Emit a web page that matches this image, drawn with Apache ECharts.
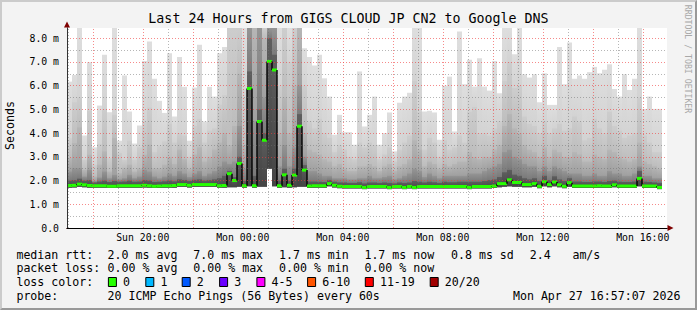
<!DOCTYPE html>
<html><head><meta charset="utf-8">
<script src="https://cdn.jsdelivr.net/npm/echarts@6.0.0/dist/echarts.min.js"></script>
<style>
html,body{margin:0;padding:0;background:#f3f3f3;}
#wrap{position:relative;width:697px;height:310px;}
#c{width:697px;height:310px;}
#frame{position:absolute;left:0;top:0;width:697px;height:310px;box-sizing:border-box;border-style:solid;border-width:2px;border-color:#cbcbcb #999999 #999999 #cbcbcb;pointer-events:none;}
</style></head>
<body><div id="wrap"><div id="c"></div><div id="frame"></div></div>
<script>
// ---- time frame (hours since Sun 00:00), 12-minute consolidated columns ----
const T0 = 16.97, STEP = 0.2;
const X_MIN = 16.97, X_MAX = 40.97;
const Y_MAX = 8.43;
const xLabelHours = [20, 24, 28, 32, 36, 40];

// ---- median rtt per column (ms) ----
const median = [
1.79,1.80,1.85,1.82,1.79,1.78,1.78,1.78,1.76,1.76,
1.78,1.78,1.78,1.78,1.78,1.80,1.78,1.76,1.77,1.78,
1.78,1.79,1.83,1.83,1.80,1.83,1.83,1.83,1.83,1.83,
1.78,1.79,2.29,2.00,2.72,1.78,5.88,1.78,4.49,3.70,
7.02,6.66,1.78,2.24,1.80,2.23,4.29,2.44,1.77,1.78,
1.78,1.78,1.87,1.80,1.76,1.75,1.75,1.75,1.75,1.71,
1.75,1.75,1.75,1.75,1.71,1.75,1.75,1.71,1.75,1.71,
1.75,1.75,1.75,1.75,1.75,1.75,1.75,1.75,1.75,1.75,
1.71,1.75,1.75,1.75,1.75,1.77,1.87,1.87,2.03,1.92,
1.92,1.83,1.83,1.87,1.76,1.95,1.83,1.94,1.82,1.76,
1.91,1.77,1.77,1.77,1.77,1.77,1.78,1.77,1.77,1.82,
1.77,1.77,1.77,1.77,2.09,1.77,1.77,1.77,1.71];

// ---- smoke levels per column (ms): min ping, dark core, and upper quantile levels ----
const pingMin = [
1.70,1.71,1.74,1.72,1.70,1.70,1.70,1.70,1.69,1.69,
1.70,1.70,1.70,1.70,1.70,1.71,1.70,1.69,1.69,1.70,
1.70,1.70,1.74,1.74,1.71,1.74,1.74,1.74,1.74,1.74,
1.70,1.70,1.72,1.72,1.74,1.70,1.76,1.70,1.74,1.74,
2.50,1.76,1.70,1.72,1.70,1.72,1.74,1.74,1.69,1.70,
1.70,1.70,1.76,1.71,1.68,1.67,1.67,1.67,1.67,1.64,
1.67,1.67,1.67,1.67,1.64,1.67,1.67,1.64,1.67,1.64,
1.67,1.67,1.67,1.67,1.67,1.67,1.67,1.67,1.67,1.67,
1.64,1.67,1.67,1.67,1.67,1.69,1.72,1.74,1.76,1.74,
1.74,1.72,1.72,1.74,1.68,1.76,1.72,1.76,1.72,1.68,
1.74,1.69,1.69,1.69,1.69,1.69,1.70,1.69,1.69,1.72,
1.69,1.69,1.69,1.69,1.76,1.69,1.69,1.69,1.64];

const pingCore = [
2.00,2.02,2.08,2.00,2.02,1.92,1.96,2.00,1.94,1.98,
1.95,1.96,2.00,1.95,1.96,2.02,2.00,1.94,1.95,1.97,
2.00,1.97,2.05,2.02,1.98,2.03,2.05,2.00,2.02,2.05,
2.10,2.20,2.40,2.15,3.00,1.98,6.60,2.20,5.00,4.00,
8.00,7.30,2.00,2.50,2.00,2.50,4.80,2.65,1.96,1.96,
1.95,1.94,2.02,1.95,1.92,1.92,1.90,1.90,1.93,1.88,
1.92,1.92,1.90,1.92,1.90,1.88,1.92,1.90,1.92,1.98,
1.95,1.92,1.95,1.93,1.90,1.95,1.93,1.93,1.95,1.95,
1.95,1.95,1.95,1.98,2.02,2.05,2.15,2.35,2.45,2.25,
2.20,2.10,2.05,2.10,1.98,2.20,2.02,2.18,2.05,1.98,
2.10,1.96,1.96,1.94,1.94,1.96,1.96,1.94,1.98,2.00,
1.95,1.94,1.94,1.96,2.40,1.95,1.94,1.92,1.90];

const pingP4 = [
2.38,2.52,2.52,2.17,2.45,1.98,2.13,2.38,2.10,2.24,
2.05,2.10,2.24,2.10,2.17,2.45,2.38,2.17,2.10,2.17,
2.30,2.20,2.40,2.30,2.15,2.30,2.40,2.20,2.30,2.40,
2.60,2.80,2.70,2.80,4.30,2.50,8.50,4.50,8.50,5.50,
8.50,8.50,2.60,3.50,2.60,3.40,6.00,3.00,2.40,2.40,
2.30,2.20,2.20,2.10,2.10,2.10,2.05,2.05,2.10,2.10,
2.20,2.10,2.10,2.15,2.20,2.05,2.10,2.20,2.30,2.50,
2.40,2.15,2.30,2.20,2.10,2.20,2.20,2.20,2.20,2.20,
2.30,2.30,2.30,2.40,2.50,2.60,2.70,3.20,3.30,3.00,
2.90,2.70,2.60,2.60,2.40,2.60,2.40,2.60,2.50,2.40,
2.30,2.30,2.30,2.20,2.20,2.30,2.20,2.20,2.40,2.30,
2.30,2.20,2.20,2.30,2.60,2.20,2.20,2.10,2.10];

const pingP3 = [
2.95,3.58,4.24,2.45,3.09,2.17,2.67,3.23,2.38,3.79,
2.31,2.52,2.67,2.38,2.52,3.09,3.51,2.52,2.52,2.67,
3.0,2.7,3.3,2.9,2.5,3.1,3.4,2.8,3.0,3.3,
3.6,4.0,3.5,4.3,6.5,3.5,8.5,8.5,8.5,8.0,
8.5,8.5,4.0,5.5,4.0,6.0,8.5,4.0,3.3,3.2,
3.1,2.9,2.8,2.6,2.7,2.5,2.4,2.4,2.6,2.6,
2.7,2.6,2.4,2.6,2.7,2.4,2.6,2.7,2.9,3.7,
3.3,2.6,2.8,2.7,2.5,2.7,2.6,2.7,2.8,2.8,
3.2,3.0,2.9,3.0,3.0,3.3,3.5,4.3,4.8,4.2,
4.0,3.5,3.3,3.2,3.0,3.4,3.0,3.3,3.2,3.0,
3.0,3.2,3.1,2.8,2.8,3.1,3.0,2.9,3.3,3.2,
3.0,2.9,2.8,2.9,3.6,2.8,2.7,2.6,2.5];

const pingP2 = [
3.79,5.30,5.50,2.88,4.94,2.67,3.54,5.02,2.95,4.77,
3.16,2.88,3.68,2.88,3.40,4.49,5.08,3.20,3.48,3.65,
4.4,3.6,4.0,3.9,3.0,4.3,4.6,3.6,4.1,4.2,
5.2,5.6,8.5,8.5,8.5,5.5,8.5,8.5,8.5,8.5,
8.5,8.5,6.0,8.5,7.0,8.5,8.5,6.0,4.5,4.2,
4.6,4.0,3.8,3.2,3.5,3.3,3.0,2.9,3.6,3.4,
3.6,3.5,2.9,3.1,3.4,2.8,3.3,3.6,3.9,6.2,
4.9,3.3,3.8,3.6,3.0,3.7,3.3,3.4,3.9,3.6,
4.9,5.1,4.0,4.0,3.9,4.2,4.5,6.2,7.0,5.9,
6.0,4.7,4.4,4.3,4.0,4.5,4.0,4.2,4.4,4.1,
4.2,4.7,4.5,3.7,3.8,4.6,4.2,4.0,4.9,4.3,
4.1,3.8,3.9,4.0,5.5,3.9,3.6,3.2,3.2];

const pingMax = [
6.17,6.45,8.5,3.90,6.99,3.40,5.16,7.30,4.88,8.5,
3.68,6.43,4.91,3.56,4.32,7.04,7.86,6.29,5.36,4.85,
7.37,4.70,7.21,5.95,3.68,5.92,7.72,4.49,5.95,5.54,
7.37,7.63,8.5,8.5,8.5,8.5,8.5,8.5,8.5,8.5,
8.5,8.5,8.5,8.5,8.5,8.5,8.5,7.58,7.21,6.85,
7.30,6.31,5.54,3.93,4.77,4.04,4.04,3.51,6.60,4.28,
4.77,5.54,3.51,4.00,4.87,3.23,5.28,5.54,5.70,8.5,
8.5,4.91,4.94,4.87,3.72,6.00,6.38,4.07,8.28,6.06,
7.09,5.96,7.16,5.96,5.79,7.04,5.68,8.5,8.5,7.32,
8.5,6.48,6.34,6.48,5.30,6.52,5.19,5.19,7.63,6.06,
7.82,6.29,6.43,6.29,6.57,6.79,6.52,6.67,6.90,5.86,
5.54,6.48,5.82,6.29,8.5,5.02,5.54,5.02,5.02];

// ---- legend texts ----
const titleText = 'Last 24 Hours from GIGS CLOUD JP CN2 to Google DNS';
const rttStats = ['2.0 ms avg', '7.0 ms max', '1.7 ms min', '1.7 ms now', '0.8 ms sd', '2.4', 'am/s'];
const lossStats = ['0.00 % avg', '0.00 % max', '0.00 % min', '0.00 % now'];
const lossLabels = ['0', '1', '2', '3', '4-5', '6-10', '11-19', '20/20'];
const lossColors = ['#26ff00', '#00b8ff', '#0059ff', '#6a00ff', '#ff00ff', '#ff5500', '#ff0000', '#a10000'];
const probeText = '20 ICMP Echo Pings (56 Bytes) every 60s';
const stampText = 'Mon Apr 27 16:57:07 2026';

// ---- styling / layout ----
const MONO = 'DejaVu Sans Mono';
const bandTop = ['#dedede', '#cdcdcd', '#b6b6b6', '#959595', '#5e5e5e'];
const bandBottom = ['#d3d3d3', '#bdbdbd', '#a0a0a0', '#7a7a7a', '#444444'];
const rttX = [107.6, 193.3, 279, 364.4, 451, 529.8, 572.4];
const boxX = [108.4, 145.8, 182.2, 219.6, 256.9, 307.6, 365.3, 430.2];

const smokeData = median.map((m, k) => [T0 + k * STEP, T0 + (k + 1) * STEP, pingMin[k], pingCore[k], pingP4[k], pingP3[k], pingP2[k], pingMax[k]]);
const medData = median.map((m, k) => [T0 + k * STEP, T0 + (k + 1) * STEP, m, k > 0 ? median[k - 1] : m]);

function renderSmoke(params, api) {
  const cs = params.coordSys;
  const t0 = api.value(0), t1 = api.value(1);
  const x0 = api.coord([t0, 0])[0], x1 = api.coord([t1, 0])[0];
  const yLo = api.coord([t0, api.value(2)])[1];
  const levels = [api.value(7), api.value(6), api.value(5), api.value(4), api.value(3)];
  const ys = levels.map(v => Math.max(api.coord([t0, v])[1], cs.y));
  const children = [];
  for (let i = 0; i < ys.length; i++) {
    const yHi = ys[i];
    const yEnd = i + 1 < ys.length ? Math.max(ys[i + 1], yHi) : yLo;
    let fill = bandTop[i];
    if (yEnd - yHi > 1) {
      fill = {type: 'linear', x: 0, y: yHi, x2: 0, y2: yEnd, global: true,
        colorStops: [{offset: 0, color: bandTop[i]}, {offset: 1, color: bandBottom[i]}]};
    }
    children.push({type: 'rect', shape: {x: x0, y: yHi, width: x1 - x0, height: Math.max(0, yLo - yHi)}, style: {fill}});
  }
  return {type: 'group', children};
}
function renderMedian(params, api) {
  const t0 = api.value(0), t1 = api.value(1);
  const p0 = api.coord([t0, api.value(2)]);
  const p1 = api.coord([t1, api.value(2)]);
  const yPrev = api.coord([t0, api.value(3)])[1];
  return {type: 'group', children: [
    {type: 'line', shape: {x1: p0[0], y1: yPrev, x2: p0[0], y2: p0[1]}, style: {stroke: '#000', lineWidth: 1.4}},
    {type: 'rect', shape: {x: p0[0], y: p0[1] - 1.5, width: p1[0] - p0[0], height: 3}, style: {fill: lossColors[0]}}
  ]};
}

const gridLines = [];
for (let h = 17; h <= 40; h++) {
  gridLines.push({xAxis: h, lineStyle: {color: h % 2 === 0 ? 'rgba(240,60,60,0.6)' : 'rgba(110,110,110,0.5)', width: 1, type: [1, 2]}});
}
for (let v = 0.5; v <= 8.0; v += 0.5) {
  gridLines.push({yAxis: v, lineStyle: {color: Number.isInteger(v) ? 'rgba(240,60,60,0.6)' : 'rgba(110,110,110,0.5)', width: 1, type: [1, 2]}});
}

function fmtX(t) {
  const day = t < 24 ? 'Sun' : 'Mon';
  const h = Math.round(t) % 24;
  return day + ' ' + (h < 10 ? '0' : '') + h + ':00';
}
function fmtY(v) {
  if (Math.abs(v - Math.round(v)) > 1e-6) return '';
  return v === 0 ? '0.0' : v.toFixed(1) + ' m';
}

const txt = (x, y, text, extra) => Object.assign({type: 'text', x, y, silent: true,
  style: Object.assign({text, fontFamily: MONO, fontSize: 11.6, fill: '#000', verticalAlign: 'middle'}, extra || {})});

const graphic = [
  txt(10, 125.5, 'Seconds', {align: 'center'}),
  txt(16.4, 254.5, 'median rtt:'),
  txt(16.4, 268.3, 'packet loss:'),
  txt(16.4, 282.2, 'loss color:'),
  txt(16.4, 296, 'probe:'),
  txt(107.6, 296, probeText),
  txt(680.5, 296, stampText, {align: 'right'})
];
graphic[0].rotation = Math.PI / 2;
rttStats.forEach((s, i) => graphic.push(txt(rttX[i], 254.5, s)));
lossStats.forEach((s, i) => graphic.push(txt(rttX[i], 268.3, s)));
lossLabels.forEach((s, i) => {
  graphic.push({type: 'rect', silent: true, shape: {x: boxX[i], y: 277.5, width: 8, height: 9}, style: {fill: lossColors[i], stroke: '#000', lineWidth: 1}});
  graphic.push(txt(boxX[i] + 14.6, 282.2, s));
});
const rrd = txt(688, 59, 'RRDTOOL / TOBI OETIKER', {align: 'center', fontSize: 8.2, fill: '#a8a8a8'});
rrd.rotation = -Math.PI / 2;
graphic.push(rrd);

const chart = echarts.init(document.getElementById('c'), null, {renderer: 'svg', width: 697, height: 310});
chart.setOption({
  animation: false,
  backgroundColor: 'transparent',
  textStyle: {fontFamily: MONO},
  title: {text: titleText, left: 'center', top: 12, padding: 0,
    textStyle: {fontFamily: MONO, fontSize: 13.3, fontWeight: 'normal', color: '#000'}},
  grid: {left: 67, right: 30, top: 28, bottom: 82, show: true, backgroundColor: '#ffffff', borderWidth: 0},
  xAxis: [
    {type: 'value', min: X_MIN, max: X_MAX, z: 6,
      axisLine: {show: true, onZero: false, lineStyle: {color: '#000', width: 1}},
      axisTick: {show: false}, splitLine: {show: false},
      axisLabel: {customValues: xLabelHours, formatter: fmtX, fontFamily: MONO, fontSize: 9.8, color: '#000', margin: 4}},
    {type: 'value', min: X_MIN, max: X_MAX, position: 'bottom', z: 5,
      axisLine: {show: true, onZero: false, symbol: ['none', 'triangle'], symbolSize: [6, 6], symbolOffset: [0, 3.5], lineStyle: {color: '#7f0000', width: 1}},
      axisTick: {show: false}, splitLine: {show: false}, axisLabel: {show: false}}
  ],
  yAxis: [
    {type: 'value', min: 0, max: Y_MAX, interval: 1, z: 6,
      axisLine: {show: true, lineStyle: {color: '#333', width: 1}},
      axisTick: {show: false}, splitLine: {show: false},
      axisLabel: {formatter: fmtY, fontFamily: MONO, fontSize: 9.8, color: '#000', margin: 8, showMaxLabel: true}},
    {type: 'value', min: 0, max: Y_MAX, position: 'left', z: 5,
      axisLine: {show: true, symbol: ['none', 'triangle'], symbolSize: [6, 6], symbolOffset: [0, 3.5], lineStyle: {color: '#7f0000', width: 1}},
      axisTick: {show: false}, splitLine: {show: false}, axisLabel: {show: false}}
  ],
  series: [
    {type: 'custom', name: 'smoke', z: 2, renderItem: renderSmoke, data: smokeData,
      encode: {x: [0, 1], y: [2, 3, 4, 5, 6, 7]}, silent: true},
    {type: 'line', name: 'grid', z: 3, data: [], silent: true,
      markLine: {silent: true, symbol: ['none', 'none'], label: {show: false}, animation: false, data: gridLines}},
    {type: 'custom', name: 'median', z: 4, renderItem: renderMedian, data: medData,
      encode: {x: [0, 1], y: [2, 3]}, silent: true}
  ],
  graphic: graphic
});
</script>
</body></html>
